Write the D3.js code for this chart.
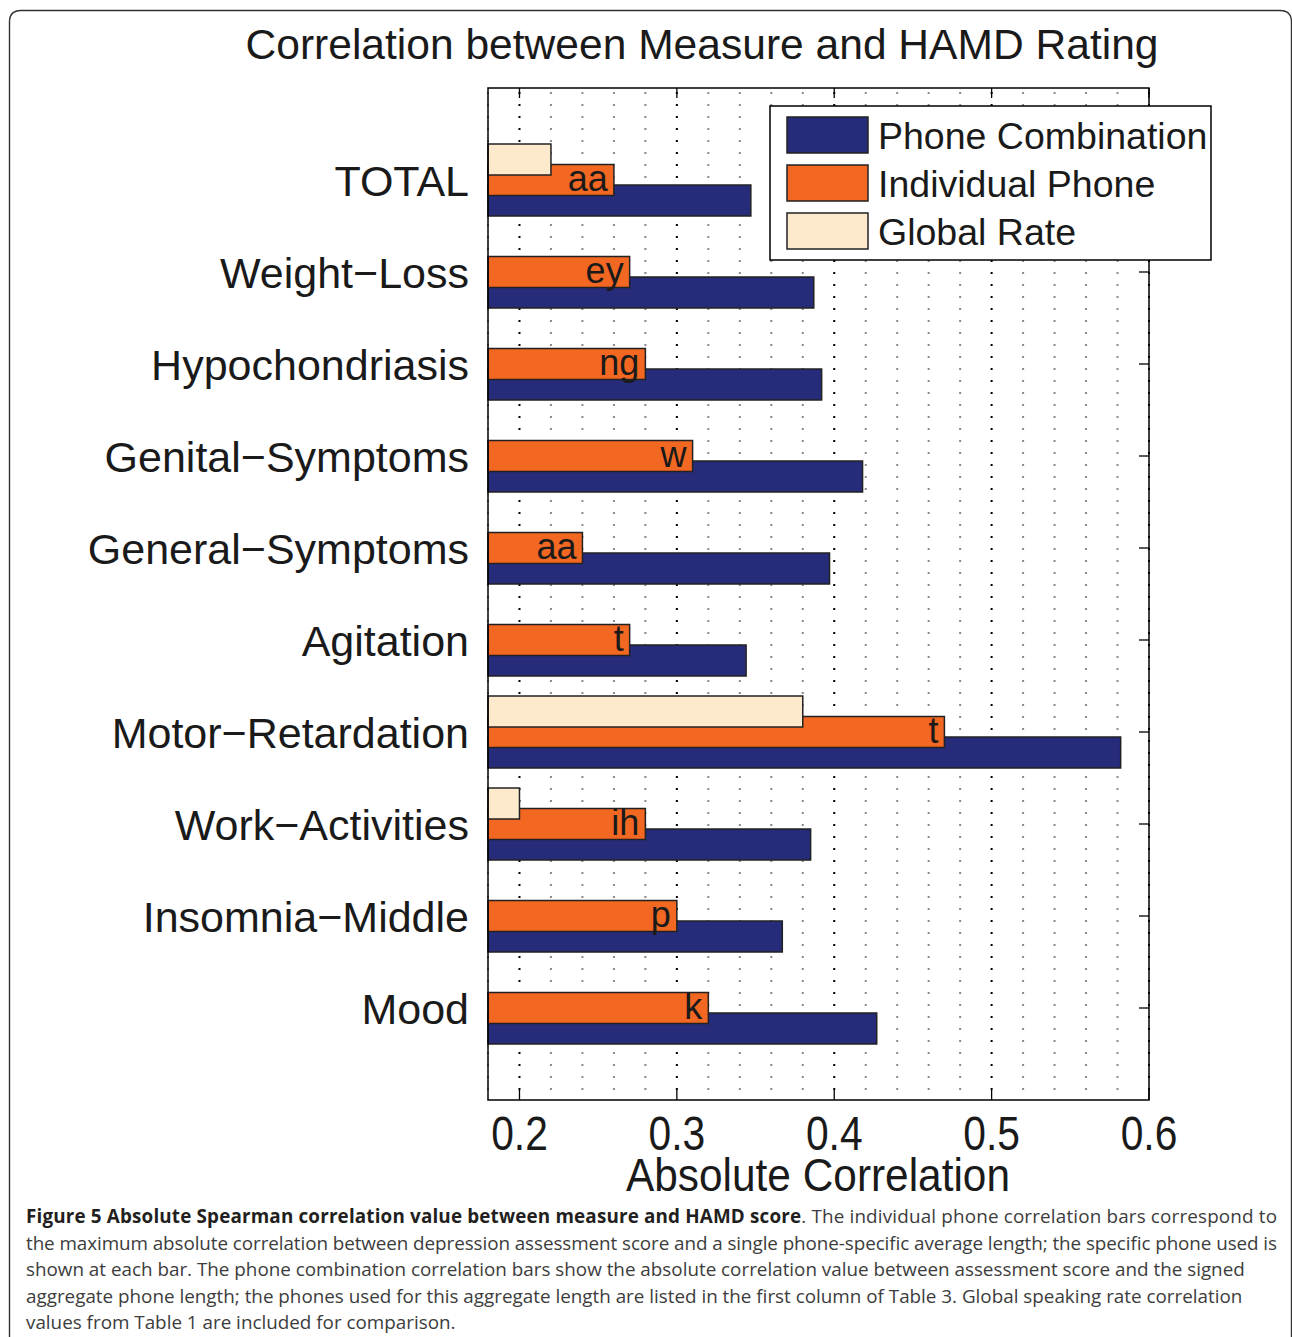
<!DOCTYPE html>
<html>
<head>
<meta charset="utf-8">
<script src="https://cdn.jsdelivr.net/npm/d3@7"></script>
<style>
  html, body { margin: 0; padding: 0; background: #fff; }
  svg { display: block; }
</style>
</head>
<body>
<script>
const categories = ["TOTAL", "Weight\u2212Loss", "Hypochondriasis", "Genital\u2212Symptoms", "General\u2212Symptoms",
  "Agitation", "Motor\u2212Retardation", "Work\u2212Activities", "Insomnia\u2212Middle", "Mood"];
const phoneCombination = [0.347, 0.387, 0.392, 0.418, 0.397, 0.344, 0.582, 0.385, 0.367, 0.427];
const individualPhone = [0.26, 0.27, 0.28, 0.31, 0.24, 0.27, 0.47, 0.28, 0.30, 0.32];
const globalRate = [0.22, null, null, null, null, null, 0.38, 0.20, null, null];
const phoneLabels = ["aa", "ey", "ng", "w", "aa", "t", "t", "ih", "p", "k"];
const xTickValues = [0.2, 0.3, 0.4, 0.5, 0.6];
const seriesNames = ["Phone Combination", "Individual Phone", "Global Rate"];
const seriesColors = ["#262b7a", "#f26722", "#fde9cc"];

const captionBold = "Figure 5 Absolute Spearman correlation value between measure and HAMD score";
const captionLines = [
  ". The individual phone correlation bars correspond to",
  "the maximum absolute correlation between depression assessment score and a single phone-specific average length; the specific phone used is",
  "shown at each bar. The phone combination correlation bars show the absolute correlation value between assessment score and the signed",
  "aggregate phone length; the phones used for this aggregate length are listed in the first column of Table 3. Global speaking rate correlation",
  "values from Table 1 are included for comparison."
];

const W = 1292, H = 1337;
const plotLeft = 488, plotRight = 1149, plotTop = 88, plotBottom = 1100;

const svg = d3.select("body").append("svg")
  .attr("width", W).attr("height", H)
  .style("font-family", "'Liberation Sans', Arial, sans-serif");

// outer frame
svg.append("path")
  .attr("d", `M9.5,${H + 5} V22 Q9.5,10.5 21,10.5 H1280 Q1291.5,10.5 1291.5,22 V${H + 5}`)
  .attr("fill", "none").attr("stroke", "#333").attr("stroke-width", 1.4);

const x = d3.scaleLinear().domain([0.18, 0.6]).range([plotLeft, plotRight]);
const y = d3.scaleBand().domain(categories).range([plotTop, plotBottom]).paddingInner(0).paddingOuter(0.5);
const barH = 31;
const offsets = [20.5, 0, -20.5];

// dotted grid
svg.append("g").selectAll("line")
  .data(x.ticks(20))
  .enter().append("line")
  .attr("x1", d => x(d)).attr("x2", d => x(d))
  .attr("y1", plotTop + 4).attr("y2", plotBottom)
  .attr("stroke", d => xTickValues.some(t => Math.abs(t - d) < 1e-9) ? "#000" : "#8a8a8a")
  .attr("stroke-width", 2)
  .attr("stroke-dasharray", "2,10");

// ticks top, bottom and sides
const tickG = svg.append("g").attr("stroke", "#000").attr("stroke-width", 1.3);
xTickValues.forEach(t => {
  tickG.append("line").attr("x1", x(t)).attr("x2", x(t)).attr("y1", plotTop).attr("y2", plotTop + 10);
  tickG.append("line").attr("x1", x(t)).attr("x2", x(t)).attr("y1", plotBottom).attr("y2", plotBottom - 10);
});
categories.forEach(c => {
  const cy = y(c) + y.bandwidth() / 2;
  tickG.append("line").attr("x1", plotRight).attr("x2", plotRight - 10).attr("y1", cy).attr("y2", cy);
  tickG.append("line").attr("x1", plotLeft).attr("x2", plotLeft + 10).attr("y1", cy).attr("y2", cy);
});

// bars: blue first, then orange, then beige on top
const series = [phoneCombination, individualPhone, globalRate];
series.forEach((vals, s) => {
  svg.append("g").selectAll("rect")
    .data(categories.map((c, i) => ({ c, v: vals[i] })).filter(d => d.v != null))
    .enter().append("rect")
    .attr("x", x(0.18))
    .attr("y", d => y(d.c) + y.bandwidth() / 2 + offsets[s] - barH / 2)
    .attr("width", d => x(d.v) - x(0.18))
    .attr("height", barH)
    .attr("fill", seriesColors[s])
    .attr("stroke", "#222")
    .attr("stroke-width", 1.5);
});

// phone labels
svg.append("g").selectAll("text")
  .data(categories.map((c, i) => ({ c, v: individualPhone[i], t: phoneLabels[i] })))
  .enter().append("text")
  .attr("x", d => x(d.v) - 6)
  .attr("y", d => y(d.c) + y.bandwidth() / 2 + 10.5)
  .attr("text-anchor", "end")
  .attr("font-size", 36)
  .attr("fill", "#1a1a1a")
  .text(d => d.t);

// axes box
svg.append("rect")
  .attr("x", plotLeft).attr("y", plotTop).attr("width", plotRight - plotLeft).attr("height", plotBottom - plotTop)
  .attr("fill", "none").attr("stroke", "#000").attr("stroke-width", 1.5);

// category labels
svg.append("g").selectAll("text")
  .data(categories)
  .enter().append("text")
  .attr("x", 469)
  .attr("y", d => y(d) + y.bandwidth() / 2 + 15.5)
  .attr("text-anchor", "end")
  .attr("font-size", 43)
  .attr("fill", "#1a1a1a")
  .text(d => d);

// x tick labels (condensed)
svg.append("g").selectAll("text")
  .data(xTickValues)
  .enter().append("text")
  .attr("transform", d => `translate(${x(d)},1150) scale(0.85,1)`)
  .attr("text-anchor", "middle")
  .attr("font-size", 48)
  .attr("fill", "#1a1a1a")
  .text(d => d3.format(".1f")(d));

svg.append("text")
  .attr("x", 818).attr("y", 1191)
  .attr("text-anchor", "middle")
  .attr("font-size", 46)
  .attr("textLength", 384).attr("lengthAdjust", "spacingAndGlyphs")
  .attr("fill", "#1a1a1a")
  .text("Absolute Correlation");

// title
svg.append("text")
  .attr("x", 702).attr("y", 59)
  .attr("text-anchor", "middle")
  .attr("font-size", 43)
  .attr("textLength", 913).attr("lengthAdjust", "spacingAndGlyphs")
  .attr("fill", "#1a1a1a")
  .text("Correlation between Measure and HAMD Rating");

// legend
const lg = svg.append("g");
lg.append("rect")
  .attr("x", 770).attr("y", 106).attr("width", 441).attr("height", 154)
  .attr("fill", "#fff").attr("stroke", "#000").attr("stroke-width", 1.5);
seriesNames.forEach((n, i) => {
  const ry = 117 + i * 48;
  lg.append("rect")
    .attr("x", 787).attr("y", ry).attr("width", 81).attr("height", 36)
    .attr("fill", seriesColors[i]).attr("stroke", "#222").attr("stroke-width", 1.5);
  lg.append("text")
    .attr("x", 878).attr("y", ry + 32)
    .attr("font-size", 37.5)
    .attr("fill", "#1a1a1a")
    .text(n);
});

// caption
const cap = svg.append("g").style("font-family", "'Open Sans', 'Noto Sans', sans-serif");
const capTexts = captionLines.map((line, i) => {
  const t = cap.append("text")
    .attr("x", 26).attr("y", 1223 + i * 26.5)
    .attr("font-size", 19)
    .attr("fill", "#3c3c3c");
  if (i === 0) {
    t.append("tspan").attr("font-weight", "bold").attr("fill", "#231f20").text(captionBold);
    t.append("tspan").text(line);
  } else {
    t.text(line);
  }
  return t;
});
// fit caption font so that line 4 matches the reference width
const w4 = capTexts[3].node().getComputedTextLength();
const fs = 19 * 1217 / w4;
capTexts.forEach(t => t.attr("font-size", fs));
capTexts[0].attr("textLength", 1251).attr("lengthAdjust", "spacing");
capTexts[1].attr("textLength", 1251).attr("lengthAdjust", "spacing");
</script>
</body>
</html>
